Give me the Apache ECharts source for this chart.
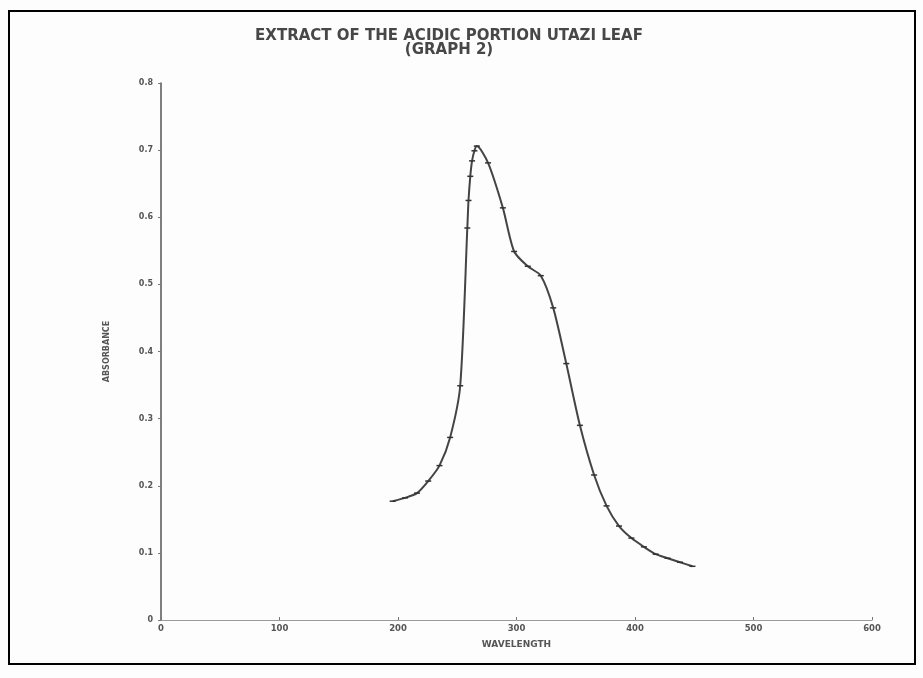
<!DOCTYPE html>
<html>
<head>
<meta charset="utf-8">
<script src="https://cdn.jsdelivr.net/npm/echarts@6/dist/echarts.min.js"></script>
<style>
html,body{margin:0;padding:0;background:#fdfdfd;}
#c{width:923px;height:678px;}
</style>
</head>
<body>
<div id="c"></div>
<script>
var titleLines = ["EXTRACT OF THE ACIDIC PORTION UTAZI LEAF", "(GRAPH 2)"];
var xAxisName = "WAVELENGTH";
var yAxisName = "ABSORBANCE";
var wavelength = [195.5, 206, 216, 225.5, 235, 244, 252.5, 258.5, 259.5, 261, 262.5, 264.5, 266.5, 276, 288.5, 298, 309.5, 320.5, 331, 342, 353.5, 365.5, 376, 386.5, 397, 407.5, 417.5, 427.5, 438, 448.5];
var absorbance = [0.177, 0.182, 0.189, 0.207, 0.230, 0.272, 0.349, 0.584, 0.625, 0.661, 0.684, 0.699, 0.706, 0.681, 0.614, 0.549, 0.527, 0.513, 0.465, 0.382, 0.290, 0.216, 0.170, 0.140, 0.122, 0.109, 0.098, 0.092, 0.086, 0.080];
var xTicks = [0, 100, 200, 300, 400, 500, 600];
var yTicks = [0, 0.1, 0.2, 0.3, 0.4, 0.5, 0.6, 0.7, 0.8];

var points = wavelength.map(function (w, i) { return [w, absorbance[i]]; });
var font = "'DejaVu Sans', 'Liberation Sans', Arial, sans-serif";

var chart = echarts.init(document.getElementById('c'));
chart.setOption({
  backgroundColor: '#fdfdfd',
  animation: false,
  title: {
    text: titleLines.join('\n'),
    left: 444,
    top: 24,
    textAlign: 'center',
    textStyle: { fontFamily: font, fontWeight: 'bold', fontSize: 15, color: '#474747', lineHeight: 14 }
  },
  graphic: [{
    type: 'rect',
    shape: { x: 9, y: 11, width: 906, height: 653 },
    style: { fill: 'none', stroke: '#000', lineWidth: 2 },
    silent: true
  }],
  grid: { left: 161, right: 51, top: 83, bottom: 58 },
  xAxis: {
    type: 'value',
    min: xTicks[0], max: xTicks[xTicks.length - 1], interval: 100,
    name: xAxisName, nameLocation: 'middle', nameGap: 20,
    nameTextStyle: { fontFamily: font, fontWeight: 'bold', fontSize: 9, color: '#555' },
    axisLine: { show: true, lineStyle: { color: '#9a9a9a', width: 1 } },
    axisTick: { show: true, length: 3, inside: true, lineStyle: { color: '#777' } },
    axisLabel: { fontFamily: font, fontWeight: 'bold', fontSize: 8.5, color: '#555', margin: 4 },
    splitLine: { show: false }
  },
  yAxis: {
    type: 'value',
    min: yTicks[0], max: yTicks[yTicks.length - 1], interval: 0.1,
    name: yAxisName, nameLocation: 'middle', nameRotate: 90, nameGap: 50,
    nameTextStyle: { fontFamily: font, fontWeight: 'bold', fontSize: 8, color: '#555' },
    axisLine: { show: true, lineStyle: { color: '#555', width: 1.5 } },
    axisTick: { show: true, length: 3, lineStyle: { color: '#777' } },
    axisLabel: {
      fontFamily: font, fontWeight: 'bold', fontSize: 8, color: '#555', margin: 8,
      formatter: function (v) { return v === 0 ? '0' : v.toFixed(1); }
    },
    splitLine: { show: false }
  },
  series: [{
    type: 'line',
    data: points,
    smooth: 0.25,
    symbol: 'rect',
    symbolSize: [6, 1.5],
    showSymbol: true,
    itemStyle: { color: '#333' },
    lineStyle: { color: '#444', width: 2 }
  }]
});
</script>
</body>
</html>
